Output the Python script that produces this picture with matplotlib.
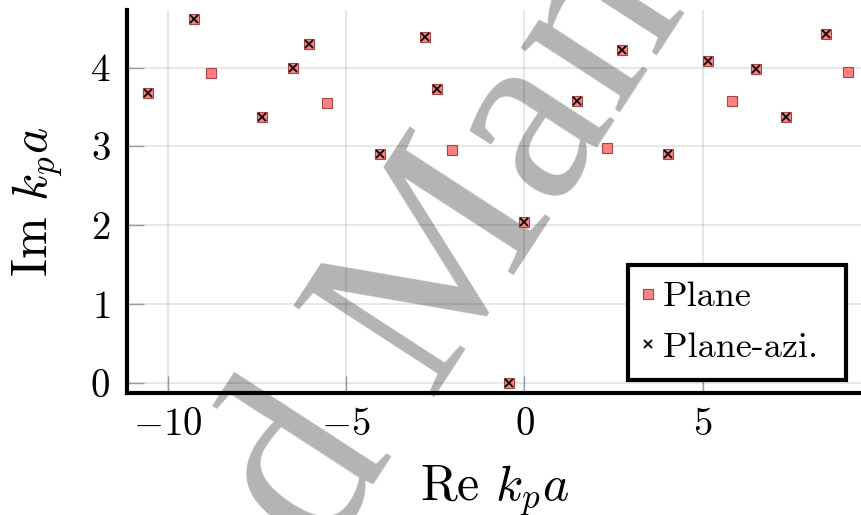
import matplotlib
matplotlib.use("Agg")
import matplotlib.pyplot as plt
import numpy as np

# Plane solutions (all points)
plane_re = [-10.57, -9.26, -8.79, -7.35, -6.48, -6.04, -5.53, -4.05, -2.80, -2.46,
            -2.03, -0.42, 0.00, 1.47, 2.32, 2.73, 4.04, 5.14, 5.81, 6.50, 7.35, 8.45, 9.07]
plane_im = [3.68, 4.61, 3.93, 3.37, 3.99, 4.30, 3.55, 2.90, 4.39, 3.73,
            2.95, 0.00, 2.04, 3.57, 2.98, 4.22, 2.90, 4.08, 3.57, 3.98, 3.37, 4.42, 3.94]
# Plane-azi. solutions
azi_re = [-10.57, -9.26, -7.35, -6.48, -6.04, -4.05, -2.80, -2.46, -0.42, 0.00,
          1.47, 2.73, 4.04, 5.14, 6.50, 7.35, 8.45]
azi_im = [3.68, 4.61, 3.37, 3.99, 4.30, 2.90, 4.39, 3.73, 0.00, 2.04,
          3.57, 4.22, 2.90, 4.08, 3.98, 3.37, 4.42]
xticks = [-10, -5, 0, 5]
yticks = [0, 1, 2, 3, 4]

plt.rcParams['font.family'] = ['cmr10', 'DejaVu Serif']
plt.rcParams['mathtext.fontset'] = 'cm'
plt.rcParams['axes.formatter.use_mathtext'] = True

W, H = 862, 515
fig = plt.figure(figsize=(W / 100, H / 100), dpi=100)

# watermark, placed in pixel terms
ang = 57
wm_fs = 185
em = wm_fs * 100 / 72
bx, by = np.cos(np.radians(ang)), -np.sin(np.radians(ang))
mx, my = 427.8, 397.0            # origin of the "M" in pixels (from top-left)
ax_, ay_ = mx - 0.25 * em * bx, my - 0.25 * em * by
wm_kw = dict(family="Liberation Serif", fontsize=wm_fs, color="#b4b4b4",
             rotation=ang, va="baseline", rotation_mode="anchor", zorder=-1)
fig.text(mx / W, 1 - my / H, "Manuscript", ha="left", **wm_kw)
fig.text(ax_ / W, 1 - ay_ / H, "Accepted", ha="right", **wm_kw)

ax = fig.add_axes([127 / W, 1 - 393.3 / H, 1 - 127 / W, 383.3 / H])
ax.set_facecolor("none")

ax.plot(plane_re, plane_im, ls="none", marker="s", ms=7, mfc="#ff8080",
        mec="#a04848", mew=0.8, label="Plane", zorder=3)
ax.plot(azi_re, azi_im, ls="none", marker="x", ms=6.2, mec="black",
        mew=1.3, label="Plane-azi. ", zorder=4)

ax.set_xlim(-11.15, 9.47)
ax.set_ylim(-0.135, 4.73)
ax.set_xticks(xticks)
ax.set_yticks(yticks)
ax.grid(True, color="black", alpha=0.1, lw=1.3)
ax.tick_params(direction="in", length=12, width=1.0, color="#9a9a9a",
               labelsize=28, pad=10)
ax.tick_params(axis="y", pad=12)
for s in ["top", "right"]:
    ax.spines[s].set_visible(False)
for s in ["left", "bottom"]:
    ax.spines[s].set_linewidth(3)

ax.set_xlabel(r"Re $k_p a$", fontsize=36, labelpad=15)
ax.set_ylabel(r"Im $k_p a$", fontsize=36, labelpad=18)

leg = ax.legend(loc="lower right", bbox_to_anchor=(0.978, 0.035), fontsize=26,
                frameon=True, fancybox=False, handlelength=0.2, handletextpad=0.3,
                borderpad=0.45, labelspacing=0.5, borderaxespad=0)
leg.get_frame().set_edgecolor("black")
leg.get_frame().set_linewidth(3)
leg.get_frame().set_alpha(1)

fig.savefig("out.png", dpi=100)
